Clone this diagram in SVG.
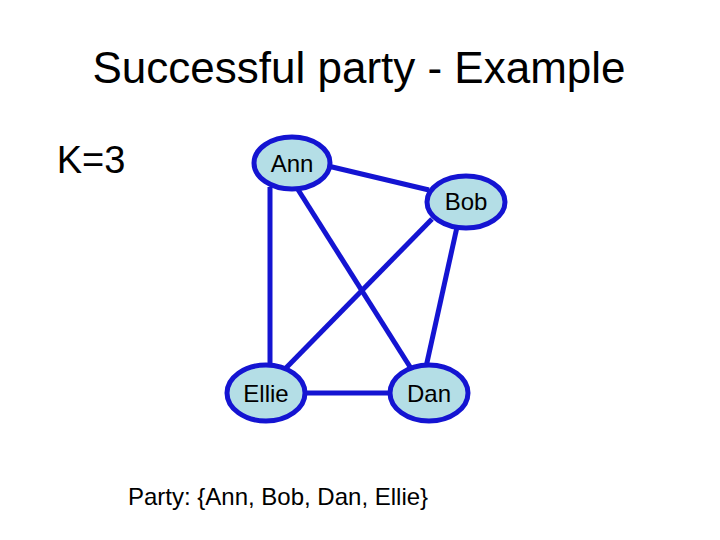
<svg xmlns="http://www.w3.org/2000/svg" width="720" height="540" viewBox="0 0 720 540">
<style>
.e{stroke:#1414d2;stroke-width:5;fill:none}
.n{fill:#b4dee6;stroke:#1414d2;stroke-width:5}
.t{font-family:"Liberation Sans",Arial,sans-serif;font-size:24px;text-anchor:middle;fill:#000}
</style>
<rect width="720" height="540" fill="#fff"/>
<text x="359" y="83" class="t" style="font-size:44px">Successful party - Example</text>
<text x="91" y="173" class="t" style="font-size:38px">K=3</text>
<g id="connectors">
<line class="e" x1="328" y1="166" x2="429" y2="190"/>
<line class="e" x1="270" y1="187" x2="270" y2="369"/>
<line class="e" x1="297" y1="188" x2="412" y2="370"/>
<line class="e" x1="432" y1="219" x2="285" y2="369"/>
<line class="e" x1="457" y1="227" x2="426" y2="367"/>
<line class="e" x1="303" y1="393" x2="392" y2="393"/>
</g>
<g id="ann"><ellipse class="n" cx="292" cy="163" rx="38" ry="26"/><text class="t" x="292" y="172">Ann</text></g>
<g id="bob"><ellipse class="n" cx="466" cy="202" rx="39" ry="26"/><text class="t" x="466" y="210">Bob</text></g>
<g id="ellie"><ellipse class="n" cx="266" cy="393" rx="39" ry="28"/><text class="t" x="266" y="402">Ellie</text></g>
<g id="dan"><ellipse class="n" cx="429" cy="393" rx="39" ry="28"/><text class="t" x="429" y="402">Dan</text></g>
<text x="278" y="505" class="t">Party: {Ann, Bob, Dan, Ellie}</text>
</svg>
